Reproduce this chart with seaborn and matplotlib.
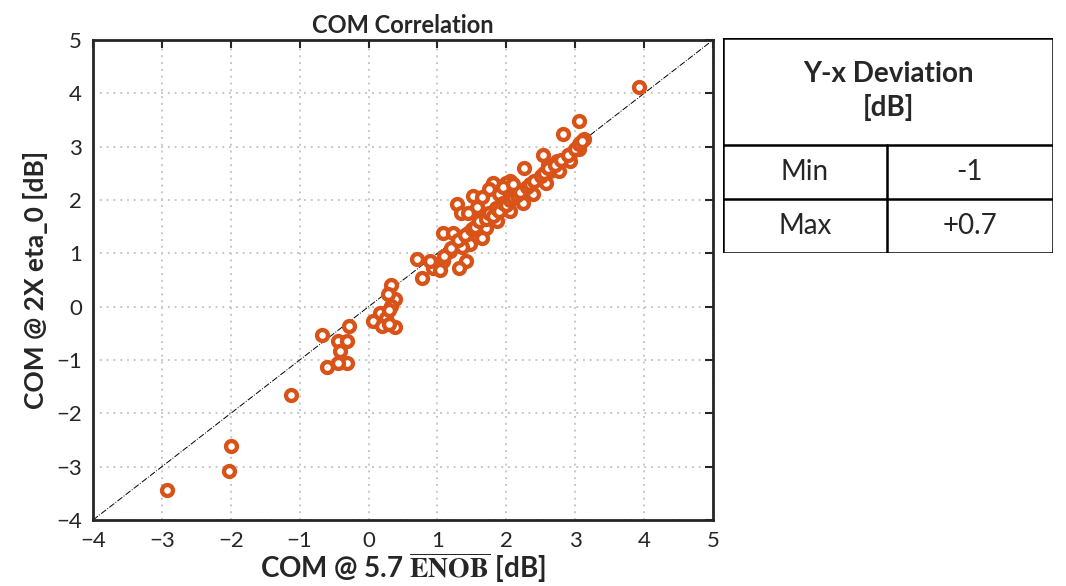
import seaborn as sns
import pandas as pd
from matplotlib import pyplot as plt
from matplotlib.patches import Rectangle

# -------------------------------------------
# data

com_enob = [3.93, 3.06, 2.82, 3.13, 3.06, 2.92, 2.73, 2.63, 2.53, 2.26, 2.6, 2.77, 2.92,
            2.58, 2.38, 2.24, 2.05, 1.86, 1.71, 2.05, 1.9, 1.8, 2.0, 1.51, 1.28, 1.34, 1.65,
            1.57, 1.08, 1.22, 1.44, 1.65, 1.47, 1.35, 1.18, 1.08, 1.42, 1.32, 0.93, 1.03,
            0.89, 0.71, 0.77,
            1.1, 1.2, 1.3, 1.4, 1.5, 1.55, 1.6, 1.7, 1.75, 1.8, 1.85, 1.9, 1.95, 2.0, 2.05,
            2.1, 2.15, 2.2, 2.3, 2.35, 2.4, 2.5, 2.55, 2.6, 2.7, 2.8, 2.9, 3.0, 3.05, 3.1,
            1.75, 1.95, 2.1, 1.65, 1.45,
            0.33, 0.39, 0.28, 0.16, 0.06, 0.26, 0.19, 0.38, 0.3, 0.32, 0.29,
            -0.28, -0.67, -0.45, -0.32, -0.42, -0.32, -0.61, -0.45,
            -1.13, -2.0, -2.02, -2.93]
com_eta = [4.11, 3.48, 3.24, 3.14, 2.96, 2.87, 2.74, 2.55, 2.85, 2.6, 2.65, 2.55, 2.74,
           2.31, 2.12, 1.95, 1.8, 1.61, 1.48, 2.36, 2.12, 2.31, 2.31, 2.08, 1.93, 1.75, 1.75,
           1.86, 1.39, 1.39, 1.39, 1.29, 1.18, 1.11, 1.05, 0.86, 0.86, 0.73, 0.73, 0.68,
           0.86, 0.9, 0.54,
           0.95, 1.1, 1.25, 1.35, 1.45, 1.5, 1.6, 1.65, 1.75, 1.7, 1.85, 1.8, 1.95, 1.9, 2.0,
           2.05, 2.1, 2.15, 2.25, 2.3, 2.35, 2.45, 2.5, 2.6, 2.65, 2.75, 2.85, 2.95, 3.05, 3.1,
           2.2, 2.25, 2.3, 2.05, 1.75,
           0.41, 0.15, 0.24, -0.11, -0.26, -0.22, -0.36, -0.39, -0.32, 0.02, -0.07,
           -0.36, -0.54, -0.64, -0.64, -0.83, -1.05, -1.14, -1.05,
           -1.65, -2.61, -3.08, -3.43]

axis_limits = [-4, 5]
axis_ticks = list(range(-4, 6))

stat_names = ['Min', 'Max']
stat_values = ['-1', '+0.7']
table_header = 'Y-x Deviation\n[dB]'

orange = '#D95319'

# -------------------------------------------

sns.set_style('white')
plt.rcParams['font.family'] = ['Lato', 'DejaVu Sans']
plt.rcParams['mathtext.fontset'] = 'stix'

df = pd.DataFrame({'enob': com_enob, 'eta': com_eta})

fig = plt.figure(figsize=(10.66, 5.86), dpi=100)
ax = fig.add_axes([93 / 1066, 1 - 520 / 586, 620 / 1066, 480 / 586])

ax.grid(True, linestyle=(0, (1, 2.5)), color='#c8c8c8', linewidth=1.4)
ax.set_axisbelow(True)
ax.axline((axis_limits[0], axis_limits[0]), slope=1, color='black',
          linestyle='-.', linewidth=0.7, zorder=1)

sns.scatterplot(data=df, x='enob', y='eta', ax=ax, marker='o', s=62,
                facecolor='white', edgecolor=orange, linewidth=3.1, zorder=3,
                legend=False)

ax.set_xlim(axis_limits)
ax.set_ylim(axis_limits)
ax.set_xticks(axis_ticks)
ax.set_yticks(axis_ticks)
ax.tick_params(direction='in', top=True, right=True, length=6, width=1.5,
               labelsize=16, pad=8, colors='#262626')
for sp in ax.spines.values():
    sp.set_linewidth(2)
    sp.set_color('#262626')

ax.set_title('COM Correlation', fontsize=17, fontweight='bold', pad=5)
ax.set_xlabel(r'COM @ 5.7 $\overline{\mathbf{ENOB}}$ [dB]', fontsize=20,
              fontweight='bold', labelpad=-1, color='#262626')
ax.set_ylabel('COM @ 2X eta_0 [dB]', fontsize=19, fontweight='bold', labelpad=6,
              color='#262626')

# -------------------------------------------
# deviation table

tax = fig.add_axes([723 / 1066, 1 - 253 / 586, 330 / 1066, 215 / 586])
tax.set_xlim(0, 330)
tax.set_ylim(215, 0)
tax.axis('off')
tax.add_patch(Rectangle((0, 0), 330, 215, fill=False, edgecolor='black', linewidth=1.8))
tax.plot([0, 330], [107, 107], color='black', linewidth=1.8)
tax.plot([0, 330], [161, 161], color='black', linewidth=1.8)
tax.plot([164, 164], [107, 215], color='black', linewidth=1.8)
tax.text(165, 53, table_header, ha='center', va='center', fontsize=20,
         fontweight='bold', linespacing=1.3)
for k, (name, val) in enumerate(zip(stat_names, stat_values)):
    yc = 134 + 54 * k
    tax.text(82, yc, name, ha='center', va='center', fontsize=20)
    tax.text(247, yc, val, ha='center', va='center', fontsize=20)

plt.savefig('out.png', dpi=100)
